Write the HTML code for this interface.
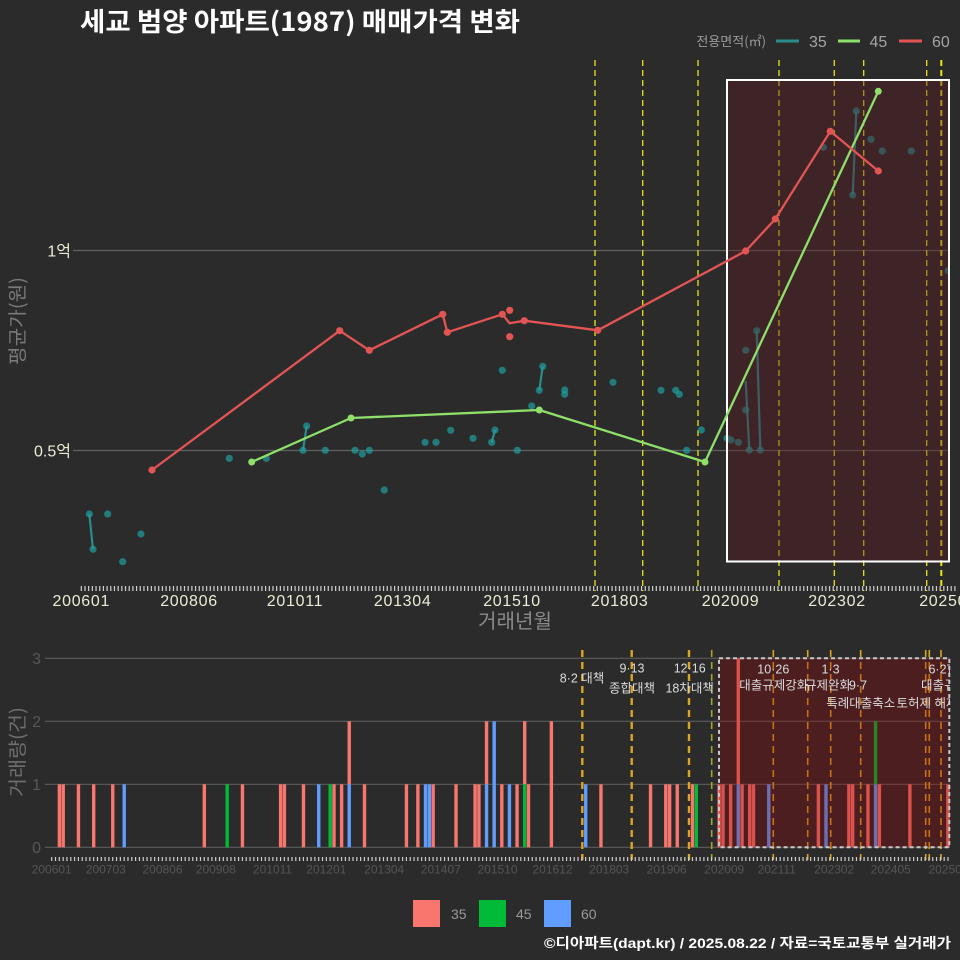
<!DOCTYPE html>
<html><head><meta charset="utf-8"><style>html,body{margin:0;padding:0;background:#2b2b2b;}svg{display:block}</style></head><body>
<svg width="960" height="960" viewBox="0 0 960 960" xmlns="http://www.w3.org/2000/svg" font-family="'Liberation Sans','Noto Sans CJK KR',sans-serif">
<defs>
<clipPath id="ct"><rect x="74" y="55" width="876" height="540"/></clipPath>
<clipPath id="cb"><rect x="44" y="640" width="906" height="230"/></clipPath>
</defs>
<rect width="960" height="960" fill="#2b2b2b"/>
<text x="80" y="31" font-family="'Noto Sans CJK KR','Liberation Sans',sans-serif" font-weight="bold" font-size="26" fill="#ffffff" textLength="440" lengthAdjust="spacingAndGlyphs">세교 범양 아파트(1987) 매매가격 변화</text>
<text x="766" y="46" text-anchor="end" font-size="13" fill="#9a9a9a" font-family="'Noto Sans CJK KR','Liberation Sans',sans-serif">전용면적(㎡)</text>
<line x1="776" y1="41" x2="799" y2="41" stroke="#2a8c8c" stroke-width="3"/>
<text x="809" y="47" font-size="16" fill="#a5a5a5">35</text>
<line x1="838" y1="41" x2="860" y2="41" stroke="#8ee06b" stroke-width="3"/>
<text x="869.5" y="47" font-size="16" fill="#a5a5a5">45</text>
<line x1="899" y1="41" x2="922" y2="41" stroke="#e35454" stroke-width="3"/>
<text x="932" y="47" font-size="16" fill="#a5a5a5">60</text>

<!-- top chart -->
<line x1="73" y1="250.5" x2="950" y2="250.5" stroke="#606060" stroke-width="1.2"/>
<line x1="73" y1="450.5" x2="950" y2="450.5" stroke="#606060" stroke-width="1.2"/>
<text x="71" y="256.5" text-anchor="end" font-size="16" fill="#ecebd5">1억</text>
<text x="71" y="456.5" text-anchor="end" font-size="16" fill="#ecebd5">0.5억</text>
<text transform="translate(24,321) rotate(-90)" text-anchor="middle" font-size="19" fill="#7a7a7a" textLength="88" lengthAdjust="spacingAndGlyphs" font-family="'Noto Sans CJK KR','Liberation Sans',sans-serif">평균가(원)</text>

<g stroke="#e5e51a" stroke-width="1.3" stroke-dasharray="6 4" fill="none">
<line x1="595" y1="60" x2="595" y2="591"/>
<line x1="642.7" y1="60" x2="642.7" y2="591"/>
<line x1="698" y1="60" x2="698" y2="591"/>
<line x1="779" y1="60" x2="779" y2="591"/>
<line x1="834.3" y1="60" x2="834.3" y2="591"/>
<line x1="863.7" y1="60" x2="863.7" y2="591"/>
<line x1="926.7" y1="60" x2="926.7" y2="591"/>
<line x1="941.3" y1="60" x2="941.3" y2="591" stroke-width="2"/>
</g>

<g clip-path="url(#ct)">
<g stroke="#2a9d9d" stroke-width="2.2" stroke-opacity="0.85">
<line x1="89.3" y1="514" x2="93" y2="549.3"/>
<line x1="303" y1="450.3" x2="306.7" y2="426"/>
<line x1="491.7" y1="442.3" x2="495" y2="430"/>
<line x1="539.3" y1="390.3" x2="542.7" y2="366.3"/>
<line x1="745.7" y1="381" x2="749.3" y2="450"/>
<line x1="756.7" y1="330.7" x2="760.3" y2="450"/>
<line x1="852.7" y1="195" x2="856.3" y2="111"/>
</g>
<g fill="#20a0a0" fill-opacity="0.7">
<circle cx="89.3" cy="514" r="3.6"/><circle cx="93" cy="549.3" r="3.6"/><circle cx="107.7" cy="514" r="3.6"/><circle cx="122.7" cy="561.7" r="3.6"/><circle cx="141" cy="534" r="3.6"/><circle cx="229.3" cy="458.3" r="3.6"/><circle cx="266.3" cy="458.3" r="3.6"/><circle cx="303" cy="450.3" r="3.6"/><circle cx="306.7" cy="426" r="3.6"/><circle cx="325.3" cy="450.3" r="3.6"/><circle cx="355" cy="450.3" r="3.6"/><circle cx="362.3" cy="454" r="3.6"/><circle cx="369.3" cy="450.3" r="3.6"/><circle cx="384.3" cy="490" r="3.6"/><circle cx="425" cy="442.3" r="3.6"/><circle cx="436" cy="442.3" r="3.6"/><circle cx="450.7" cy="430.3" r="3.6"/><circle cx="473" cy="438.3" r="3.6"/><circle cx="491.7" cy="442.3" r="3.6"/><circle cx="495" cy="430" r="3.6"/><circle cx="502.3" cy="370.3" r="3.6"/><circle cx="517.3" cy="450.3" r="3.6"/><circle cx="531.7" cy="406" r="3.6"/><circle cx="539.3" cy="390.3" r="3.6"/><circle cx="542.7" cy="366.3" r="3.6"/><circle cx="564.7" cy="390" r="3.6"/><circle cx="564.7" cy="394.3" r="3.6"/><circle cx="613" cy="382.3" r="3.6"/><circle cx="661" cy="390.3" r="3.6"/><circle cx="675.7" cy="390.3" r="3.6"/><circle cx="679.3" cy="394.3" r="3.6"/><circle cx="686.7" cy="450.3" r="3.6"/><circle cx="701.3" cy="430" r="3.6"/><circle cx="727" cy="438.3" r="3.6"/><circle cx="731" cy="440" r="3.6"/><circle cx="738.3" cy="442.3" r="3.6"/><circle cx="745.7" cy="350.3" r="3.6"/><circle cx="745.7" cy="410" r="3.6"/><circle cx="749.3" cy="450" r="3.6"/><circle cx="756.7" cy="330.7" r="3.6"/><circle cx="760.3" cy="450" r="3.6"/><circle cx="823.3" cy="147.3" r="3.6"/><circle cx="852.7" cy="195" r="3.6"/><circle cx="856.3" cy="111" r="3.6"/><circle cx="871" cy="139.3" r="3.6"/><circle cx="882.3" cy="151" r="3.6"/><circle cx="911.3" cy="151" r="3.6"/><circle cx="948.3" cy="270.7" r="3.6"/>
</g>
<rect x="727" y="80" width="222" height="481.5" fill="rgb(92,27,32)" fill-opacity="0.4" stroke="#ffffff" stroke-width="2"/>
<polyline fill="none" stroke="#8ee06b" stroke-width="2.3" stroke-linejoin="round" points="251.7,462 351,418 539.3,410 705,462 878.3,91.3"/>
<g fill="#8ee06b"><circle cx="251.7" cy="462" r="3.5"/><circle cx="351" cy="418" r="3.5"/><circle cx="539.3" cy="410" r="3.5"/><circle cx="705" cy="462" r="3.5"/><circle cx="878.3" cy="91.3" r="3.5"/></g>
<polyline fill="none" stroke="#e35454" stroke-width="2.3" stroke-linejoin="round" points="152,470 339.7,330.7 369.3,350.3 442.7,314.3 447.3,332.3 502.3,314.3 509.7,323.3 524.3,320.7 597.7,330.3 745.7,251 775.3,219 830.3,131.3 878.3,171"/>
<g fill="#e35454"><circle cx="152" cy="470" r="3.6"/><circle cx="339.7" cy="330.7" r="3.6"/><circle cx="369.3" cy="350.3" r="3.6"/><circle cx="442.7" cy="314.3" r="3.6"/><circle cx="447.3" cy="332.3" r="3.6"/><circle cx="502.3" cy="314.3" r="3.6"/><circle cx="509.7" cy="310.3" r="3.6"/><circle cx="509.7" cy="336.7" r="3.6"/><circle cx="524.3" cy="320.7" r="3.6"/><circle cx="597.7" cy="330.3" r="3.6"/><circle cx="745.7" cy="251" r="3.6"/><circle cx="775.3" cy="219" r="3.6"/><circle cx="830.3" cy="131.3" r="3.6"/><circle cx="878.3" cy="171" r="3.6"/></g>
</g>

<line x1="80.7" y1="588.5" x2="958" y2="588.5" stroke="#cfcfcf" stroke-width="5" stroke-dasharray="1.2 2.486"/>
<g font-size="16" fill="#ecebd5" text-anchor="middle" letter-spacing="0.7">
<text x="81.3" y="606">200601</text><text x="189" y="606">200806</text><text x="295" y="606">201011</text><text x="402.7" y="606">201304</text><text x="512" y="606">201510</text><text x="619.7" y="606">201803</text><text x="730.5" y="606">202009</text><text x="837" y="606">202302</text><text x="948" y="606">202508</text>
</g>
<text x="515" y="628" text-anchor="middle" font-size="20" fill="#8a8a8a" textLength="74" lengthAdjust="spacingAndGlyphs" font-family="'Noto Sans CJK KR','Liberation Sans',sans-serif">거래년월</text>

<!-- bottom chart -->
<g stroke="#5c5c5c" stroke-width="1.2">
<line x1="45" y1="658.3" x2="950" y2="658.3"/><line x1="45" y1="721.3" x2="950" y2="721.3"/><line x1="45" y1="784.3" x2="950" y2="784.3"/><line x1="45" y1="847.3" x2="950" y2="847.3"/>
</g>
<g font-size="16" fill="#585858" text-anchor="end">
<text x="41" y="664">3</text><text x="41" y="727">2</text><text x="41" y="790">1</text><text x="41" y="853">0</text>
</g>
<text transform="translate(24,752) rotate(-90)" text-anchor="middle" font-size="19" fill="#6e6e6e" textLength="90" lengthAdjust="spacingAndGlyphs" font-family="'Noto Sans CJK KR','Liberation Sans',sans-serif">거래량(건)</text>

<g clip-path="url(#cb)">
<g fill="#f8766d">
<rect x="57.68" y="784.3" width="3.4" height="63"/><rect x="61.49" y="784.3" width="3.4" height="63"/><rect x="76.75" y="784.3" width="3.4" height="63"/><rect x="92" y="784.3" width="3.4" height="63"/><rect x="111.07" y="784.3" width="3.4" height="63"/><rect x="202.61" y="784.3" width="3.4" height="63"/><rect x="240.75" y="784.3" width="3.4" height="63"/><rect x="278.89" y="784.3" width="3.4" height="63"/><rect x="282.7" y="784.3" width="3.4" height="63"/><rect x="301.77" y="784.3" width="3.4" height="63"/><rect x="332.29" y="784.3" width="3.4" height="63"/><rect x="339.91" y="784.3" width="3.4" height="63"/><rect x="362.8" y="784.3" width="3.4" height="63"/><rect x="404.75" y="784.3" width="3.4" height="63"/><rect x="416.19" y="784.3" width="3.4" height="63"/><rect x="431.45" y="784.3" width="3.4" height="63"/><rect x="454.33" y="784.3" width="3.4" height="63"/><rect x="473.4" y="784.3" width="3.4" height="63"/><rect x="477.22" y="784.3" width="3.4" height="63"/><rect x="500.1" y="784.3" width="3.4" height="63"/><rect x="515.36" y="784.3" width="3.4" height="63"/><rect x="526.8" y="784.3" width="3.4" height="63"/><rect x="599.27" y="784.3" width="3.4" height="63"/><rect x="648.85" y="784.3" width="3.4" height="63"/><rect x="664.1" y="784.3" width="3.4" height="63"/><rect x="667.92" y="784.3" width="3.4" height="63"/><rect x="675.55" y="784.3" width="3.4" height="63"/><rect x="690.8" y="784.3" width="3.4" height="63"/><rect x="717.5" y="784.3" width="3.4" height="63"/><rect x="721.31" y="784.3" width="3.4" height="63"/><rect x="728.94" y="784.3" width="3.4" height="63"/><rect x="740.38" y="784.3" width="3.4" height="63"/><rect x="748.01" y="784.3" width="3.4" height="63"/><rect x="751.83" y="784.3" width="3.4" height="63"/><rect x="816.66" y="784.3" width="3.4" height="63"/><rect x="847.18" y="784.3" width="3.4" height="63"/><rect x="850.99" y="784.3" width="3.4" height="63"/><rect x="866.25" y="784.3" width="3.4" height="63"/><rect x="877.69" y="784.3" width="3.4" height="63"/><rect x="908.2" y="784.3" width="3.4" height="63"/><rect x="946.2" y="784.3" width="3.4" height="63"/>
<rect x="347.54" y="721.3" width="3.4" height="63"/><rect x="484.85" y="721.3" width="3.4" height="63"/><rect x="522.99" y="721.3" width="3.4" height="63"/>
<rect x="549.68" y="721.3" width="3.4" height="126"/>
<rect x="736.57" y="658.3" width="3.4" height="126"/>
</g>
<g fill="#619cff">
<rect x="122.52" y="784.3" width="3.4" height="63"/><rect x="317.03" y="784.3" width="3.4" height="63"/><rect x="347.54" y="784.3" width="3.4" height="63"/><rect x="423.82" y="784.3" width="3.4" height="63"/><rect x="427.64" y="784.3" width="3.4" height="63"/><rect x="484.85" y="784.3" width="3.4" height="63"/><rect x="507.73" y="784.3" width="3.4" height="63"/><rect x="584.01" y="784.3" width="3.4" height="63"/><rect x="736.57" y="784.3" width="3.4" height="63"/><rect x="767.08" y="784.3" width="3.4" height="63"/><rect x="824.29" y="784.3" width="3.4" height="63"/><rect x="873.87" y="784.3" width="3.4" height="63"/>
<rect x="492.47" y="721.3" width="3.4" height="126"/>
</g>
<g fill="#00ba38">
<rect x="225.49" y="784.3" width="3.4" height="63"/><rect x="328.47" y="784.3" width="3.4" height="63"/><rect x="522.99" y="784.3" width="3.4" height="63"/><rect x="694.62" y="784.3" width="3.4" height="63"/>
<rect x="873.87" y="721.3" width="3.4" height="63"/>
</g>
</g>

<g stroke="#daa520" stroke-width="1.6" stroke-dasharray="7 5" fill="none">
<line x1="582.3" y1="650" x2="582.3" y2="860" stroke-width="2.4"/>
<line x1="631.7" y1="650" x2="631.7" y2="860" stroke-width="2.4"/>
<line x1="689" y1="650" x2="689" y2="860" stroke-width="2.4"/>
<line x1="711.7" y1="650" x2="711.7" y2="860" stroke="#a8a030"/>
<line x1="773.3" y1="650" x2="773.3" y2="860"/>
<line x1="807.7" y1="650" x2="807.7" y2="860"/>
<line x1="830.7" y1="650" x2="830.7" y2="860"/>
<line x1="860.7" y1="650" x2="860.7" y2="860"/>
<line x1="925.7" y1="650" x2="925.7" y2="860"/>
<line x1="929.3" y1="650" x2="929.3" y2="860"/>
<line x1="941" y1="650" x2="941" y2="860"/>
</g>
<rect x="719" y="658.3" width="230.3" height="189" fill="rgb(152,0,2)" fill-opacity="0.3" stroke="#c8c8c8" stroke-width="2" stroke-dasharray="4 3"/>

<g clip-path="url(#cb)" font-size="12.5" fill="#dcdcdc" text-anchor="middle" font-family="'Liberation Sans','Noto Sans CJK KR',sans-serif">
<text x="582" y="682.5">8·2 대책</text>
<text x="632" y="672.5">9·13</text><text x="632" y="692.5">종합대책</text>
<text x="689.7" y="672.5">12·16</text><text x="689.7" y="692.5">18차대책</text>
<text x="773.3" y="673.5">10·26</text><text x="773.7" y="689.5">대출규제강화</text>
<text x="830.5" y="673.5">1·3</text><text x="828" y="689.5">규제완화</text>
<text x="858" y="689.5">9·7</text><text x="860.8" y="707.5">특례대출축소</text>
<text x="941" y="673.5">6·27</text><text x="944" y="689.5">대출규제</text>
<text x="927" y="707.5">토허제 해제</text>
</g>

<line x1="51.1" y1="859" x2="950" y2="859" stroke="#cfcfcf" stroke-width="4" stroke-dasharray="1.2 2.614"/>
<g font-size="12" fill="#555555" text-anchor="middle">
<text x="51.7" y="873.5">200601</text><text x="105.8" y="873.5">200703</text><text x="162.5" y="873.5">200806</text><text x="215.8" y="873.5">200908</text><text x="272.5" y="873.5">201011</text><text x="326.3" y="873.5">201201</text><text x="384.2" y="873.5">201304</text><text x="440.8" y="873.5">201407</text><text x="497.5" y="873.5">201510</text><text x="552.5" y="873.5">201612</text><text x="609.2" y="873.5">201803</text><text x="666.7" y="873.5">201906</text><text x="724.2" y="873.5">202009</text><text x="776.7" y="873.5">202111</text><text x="834.2" y="873.5">202302</text><text x="890.8" y="873.5">202405</text><text x="948.5" y="873.5">202508</text>
</g>

<rect x="413" y="900" width="27" height="27" fill="#f8766d"/>
<text x="451" y="919" font-size="14" fill="#999999">35</text>
<rect x="479" y="900" width="27" height="27" fill="#00ba38"/>
<text x="516" y="919" font-size="14" fill="#999999">45</text>
<rect x="544" y="900" width="27" height="27" fill="#619cff"/>
<text x="581" y="919" font-size="14" fill="#999999">60</text>

<text x="951" y="948" text-anchor="end" font-size="14" font-weight="bold" fill="#ffffff" textLength="407" lengthAdjust="spacingAndGlyphs">©디아파트(dapt.kr) / 2025.08.22 / 자료=국토교통부 실거래가</text>
</svg>
</body></html>
